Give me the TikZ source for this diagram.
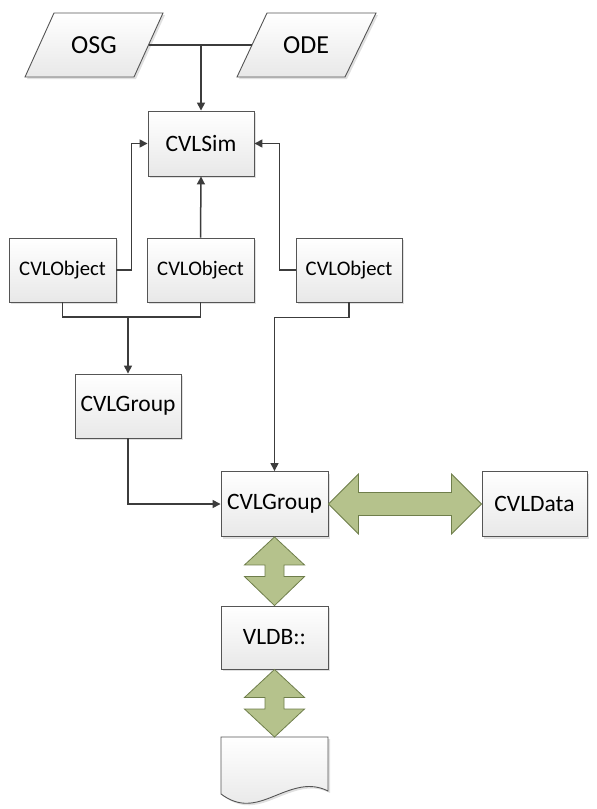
\documentclass[tikz,border=0pt]{standalone}
\usepackage{fontspec}
\setmainfont{Carlito}
\usetikzlibrary{arrows.meta,shadows,calc}

\definecolor{boxline}{HTML}{555555}
\definecolor{conn}{HTML}{3C3C3C}
\definecolor{gfill}{HTML}{B5C28C}
\definecolor{gline}{HTML}{6F7E4B}
\definecolor{bbot}{HTML}{E8E8E8}

\tikzset{
  boxbase/.style={draw=boxline, line width=0.9pt, top color=white, bottom color=bbot,
    drop shadow={shadow xshift=2pt, shadow yshift=-2pt, fill=black, opacity=0.12}},
  blk/.style={boxbase, rectangle, inner sep=0pt, minimum width=106pt, minimum height=64pt,
    font=\fontsize{23.5}{26}\selectfont},
  objbox/.style={blk, font=\fontsize{20.7}{23}\selectfont},
  txt/.style={inner sep=0pt, font=\fontsize{26}{28}\selectfont},
  conline/.style={draw=conn, line width=1.5pt},
  arr/.style={conline, -{Triangle[length=8pt,width=8pt]}},
  garrow/.style={fill=gfill, draw=gline, line width=0.8pt, line join=miter},
}

\begin{document}
\begin{tikzpicture}[x=1pt,y=-1pt]
\useasboundingbox[fill=white] (0,0) rectangle (597,809);

% input shapes
\path[boxbase] (54,13) -- (163,13) -- (134,77) -- (25,77) -- cycle;
\node[txt] (osg) at (94,45) {OSG};
\path[boxbase] (267,13) -- (376,13) -- (345,77) -- (237,77) -- cycle;
\node[txt] (ode) at (306,45) {ODE};
\coordinate (osgR) at (148.5,45);
\coordinate (odeL) at (252,45);

% boxes
\node[blk, minimum height=65pt] (cvlsim) at (201,143.5) {CVLSim};
\node[objbox, minimum width=107pt] (obj1) at (62.5,270) {CVLObject};
\node[objbox, minimum width=107pt] (obj2) at (200.5,270) {CVLObject};
\node[objbox] (obj3) at (349,270) {CVLObject};
\node[blk] (grp1) at (128,406) {CVLGroup};
\node[blk, minimum width=107pt, minimum height=65pt] (grp2) at (274.5,504) {CVLGroup};
\node[blk, minimum width=105pt, minimum height=65pt] (data) at (534.5,504) {CVLData};
\node[blk, minimum width=107pt, minimum height=63pt] (vldb) at (274.5,637.5) {VLDB::};

% document
\path[boxbase] (221,737) -- (328,737) -- (328,791)
  .. controls (310,782) and (294,788) .. (274.5,796)
  .. controls (255,804) and (240,808) .. (221,794) -- cycle;
\coordinate (doctop) at (274.5,737);

% connectors
\coordinate (jn) at (cvlsim.north |- osgR);
\draw[conline] (osgR) -- (odeL);
\draw[arr] (jn) -- (cvlsim.north);
\draw[arr] (obj1.east) -- ++(15,0) |- (cvlsim.west);
\draw[arr] (obj2.north) -- (cvlsim.south);
\draw[arr] (obj3.west) -- ++(-16,0) |- (cvlsim.east);

\coordinate (m1) at (grp1.north |- 0,317);
\draw[conline] (obj1.south) |- (m1) -| (obj2.south);
\draw[arr] (m1) -- (grp1.north);
\draw[arr] (obj3.south) -- ++(0,15) -| (grp2.north);
\draw[arr] (grp1.south) |- (grp2.west);

% green double arrows
\path[garrow] (grp2.east) -- ++(30,-30) -- ++(0,18.5)
  -- ($(data.west)+(-30,-11.5)$) -- ++(0,-18.5) -- (data.west)
  -- ++(-30,30) -- ++(0,-18.5) -- ($(grp2.east)+(30,11.5)$) -- ++(0,18.5) -- cycle;

\path[garrow] (grp2.south) -- ++(30,28) -- ++(-20.5,0)
  -- ($(vldb.north)+(9.5,-29)$) -- ++(20.5,0) -- (vldb.north)
  -- ++(-30,-29) -- ++(20.5,0) -- ($(grp2.south)+(-9.5,28)$) -- ++(-20.5,0) -- cycle;

\path[garrow] (vldb.south) -- ++(30,28) -- ++(-20.5,0)
  -- ($(doctop)+(9.5,-28)$) -- ++(20.5,0) -- (doctop)
  -- ++(-30,-28) -- ++(20.5,0) -- ($(vldb.south)+(-9.5,28)$) -- ++(-20.5,0) -- cycle;
\end{tikzpicture}
\end{document}
